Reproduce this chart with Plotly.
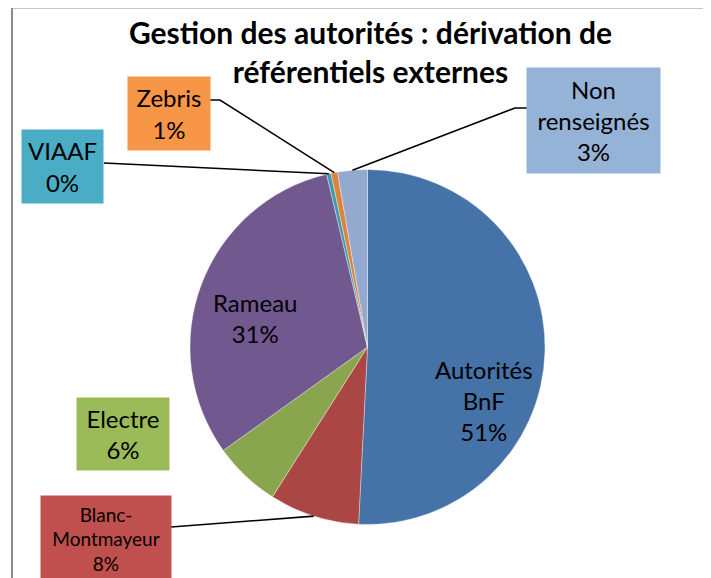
import math
import plotly.graph_objects as go

# ---- data ----
labels = ["Autorités BnF", "Blanc-Montmayeur", "Electre", "Rameau", "VIAAF", "Zebris", "Non renseignés"]
label_lines = ["Autorités<br>BnF", "Blanc-<br>Montmayeur", "Electre", "Rameau", "VIAAF", "Zebris", "Non<br>renseignés"]
values = [50.8, 8.2, 6.1, 31.2, 0.4, 0.6, 2.7]
slice_colors = ["#4572A7", "#AA4643", "#89A54E", "#71588F", "#4198AF", "#DB843D", "#93A9CF"]
box_colors = ["#4F81BD", "#C0504D", "#9BBB59", "#8064A2", "#4BACC6", "#F79646", "#95B3D7"]
title_text = "Gestion des autorités : dérivation de<br>référentiels externes"

# page body offset (browser default margin) and figure size
OFF = 8
W, H = 711 - OFF, 578 - OFF
FONT = "Lato"

# pie geometry in window pixels
cx, cy, r = 367.5, 347.0, 177.5

def px(x):
    return (x - OFF) / W

def py(y):
    return 1 - (y - OFF) / H

fig = go.Figure(go.Pie(
    labels=labels, values=values, sort=False, direction="clockwise", rotation=0,
    marker=dict(colors=slice_colors, line=dict(color="rgba(255,255,255,0.6)", width=0.6)),
    textinfo="none",
    domain=dict(x=[px(cx - r), px(cx + r)], y=[py(cy + r), py(cy - r)]),
    showlegend=False, hoverinfo="label+percent",
))

total = sum(values)
pct = [f"{round(v / total * 100)}%" for v in values]

# slice mid-angle anchor points on the rim, computed from the data
cum = 0
anchors = []
for v in values:
    mid = (cum + v / 2) / total * 2 * math.pi
    anchors.append((cx + r * math.sin(mid), cy - r * math.cos(mid)))
    cum += v

# inside labels (layout positions)
inside = {0: (484, 400, 24), 3: (255, 318, 24)}
for i, (lx, ly, fs) in inside.items():
    fig.add_annotation(x=px(lx), y=py(ly), xref="paper", yref="paper",
                       text=f"{label_lines[i]}<br>{pct[i]}", showarrow=False, align="center",
                       xanchor="center", yanchor="middle",
                       font=dict(family=FONT, size=fs, color="#000000"))

# label boxes (layout): center x, center y, width, height, font size
boxes = {
    5: (169, 113.5, 82, 73, 24),
    4: (62.5, 166.5, 81, 73, 24),
    6: (593.5, 120.5, 133, 105, 24),
    2: (123, 434, 92, 72, 24),
    1: (106, 539, 130, 86, 19),
}
for i, (bx, by, bw, bh, fs) in boxes.items():
    fig.add_annotation(x=px(bx), y=py(by), xref="paper", yref="paper",
                       text=f"{label_lines[i]}<br>{pct[i]}", showarrow=False, align="center",
                       width=bw, height=bh, bgcolor=box_colors[i], borderpad=0,
                       valign="middle", xanchor="center", yanchor="middle",
                       font=dict(family=FONT, size=fs, color="#000000"))

# leader lines: start at box edges (layout), end at slice anchor (data)
leaders = {
    5: [(210, 100), (220, 100)],
    4: [(104, 163)],
    6: [(527, 108), (515, 108)],
    1: [(171, 527)],
}
for i, pts in leaders.items():
    pts = pts + [anchors[i]]
    path = "M " + " L ".join(f"{px(x):.5f},{py(y):.5f}" for x, y in pts)
    fig.add_shape(type="path", path=path, xref="paper", yref="paper",
                  line=dict(color="#000000", width=1.6))

# outer chart border
fig.add_shape(type="rect", xref="paper", yref="paper",
              x0=px(12), x1=px(740), y0=py(600), y1=py(7.5),
              line=dict(color="#8C8C8C", width=2), fillcolor="rgba(0,0,0,0)", layer="below")

fig.add_annotation(x=px(370), y=py(51.5), xref="paper", yref="paper", text=title_text,
                   showarrow=False, xanchor="center", yanchor="middle", align="center",
                   font=dict(family=FONT, size=30, color="#000000", weight="bold"))

fig.update_layout(width=W, height=H, margin=dict(l=0, r=0, t=0, b=0),
                  paper_bgcolor="white", plot_bgcolor="white")

fig.write_html("out.html")
